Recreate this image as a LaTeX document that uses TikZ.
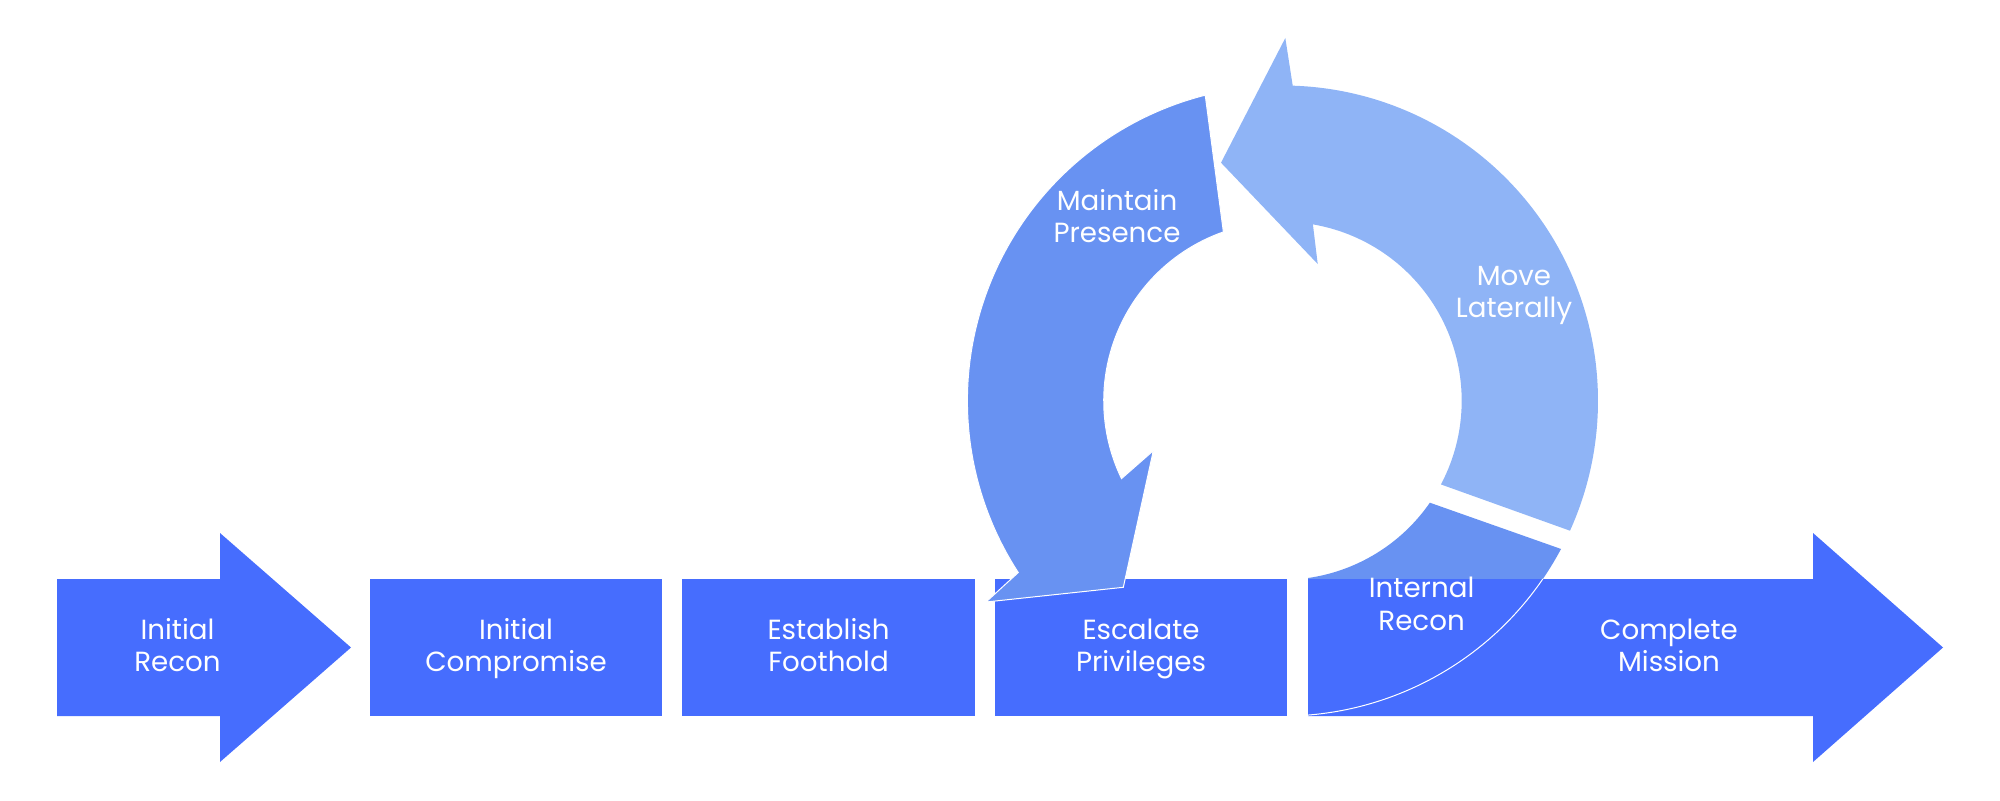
\documentclass[tikz,border=0pt]{standalone}
\usepackage{fontspec}
\setmainfont{Poppins}
\usetikzlibrary{calc}
\definecolor{rectblue}{HTML}{466DFE}
\definecolor{midblue}{HTML}{6892F2}
\definecolor{lightblue}{HTML}{8FB4F6}
\begin{document}
\begin{tikzpicture}[x=0.5pt,y=0.5pt,
  lbl/.style={text=white, align=center, font=\fontsize{13.85pt}{16.35pt}\selectfont,
              inner sep=0pt, text height=9.7pt, text depth=0pt},
  edge/.style={draw=white, line width=0.5pt}]
\useasboundingbox (0,0) rectangle (2000,800);
\coordinate (C) at (1282.7,399.2);

% Move Laterally segment (light)
\fill[lightblue] ($(C)+(88.18:315.3)$) arc[start angle=88.18,end angle=-24.33,radius=315.3]
  -- ($(C)+(-27.86:179)$) arc[start angle=-27.86,end angle=80.29,radius=179]
  -- (1317.7,536) -- (1221,637.3) -- (1285.3,762) -- cycle;

% Internal Recon segment
\fill[midblue] ($(C)+(-34.70:179)$) -- ($(C)+(-28.03:315.3)$)
  arc[start angle=-28.03,end angle=-85.40,radius=315.3]
  -- ($(C)+(-81.87:179)$) arc[start angle=-81.87,end angle=-34.70,radius=179] -- cycle;

% Process chain
\fill[rectblue] (57,84) -- (220,84) -- (220,38) -- (351,152.5) -- (220,267) -- (220,221) -- (57,221) -- cycle;
\fill[rectblue] (370,84) rectangle (662,221);
\fill[rectblue] (682,84) rectangle (975,221);
\fill[rectblue] (995,84) rectangle (1287,221);
\fill[rectblue] (1308,84) -- (1813,84) -- (1813,38) -- (1943,152.5) -- (1813,267) -- (1813,221) -- (1308,221) -- cycle;

% outline of Internal Recon seen through the last arrow
\draw[edge] ($(C)+(-85.40:315.3)$) arc[start angle=-85.40,end angle=-34.42,radius=315.3];

% Maintain Presence segment
\path[fill=midblue, edge] ($(C)+(104.23:315.3)$) arc[start angle=104.23,end angle=213.0,radius=315.3]
  -- (986,198) -- (1123.3,212.7) -- (1153.3,349.3)
  -- ($(C)+(205.76:179)$) arc[start angle=205.76,end angle=109.36,radius=179] -- cycle;

% Labels
\node[lbl] (ir) at (177.5,137.85) {Initial\\Recon};
\node[lbl] (ic) at (516,137.85) {Initial\\Compromise};
\node[lbl] (ef) at (828.5,137.85) {Establish\\Foothold};
\node[lbl] (ep) at (1141,137.85) {Escalate\\Privileges};
\node[lbl] (cm) at (1669,137.85) {Complete\\Mission};
\node[lbl] (inr) at (1421.6,179.45) {Internal\\Recon};
\node[lbl] (mp) at (1117,566.95) {Maintain\\Presence};
\node[lbl] (ml) at (1514,491.95) {Move\\Laterally};
\end{tikzpicture}
\end{document}
